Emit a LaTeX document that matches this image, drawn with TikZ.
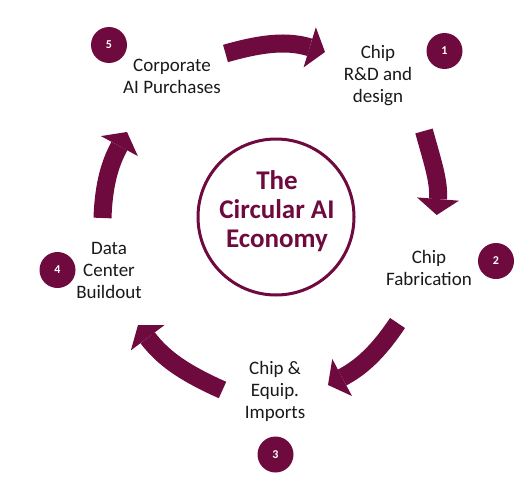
\documentclass[tikz,border=0pt]{standalone}
\usepackage{fontspec}
\setmainfont{Carlito}
\usetikzlibrary{arrows.meta}
\definecolor{maroon}{RGB}{110,10,62}
\begin{document}
\begin{tikzpicture}[x=1pt,y=1pt,
  lbl/.style={align=center, font=\fontsize{19}{22}\selectfont, text=black!90, inner sep=0pt},
  badge/.style={circle, fill=maroon, minimum size=36pt, inner sep=0pt, text=white, font=\fontsize{12}{12}\selectfont\bfseries},
  hub/.style={circle, draw=maroon, line width=3pt, minimum size=156pt, inner sep=0pt},
  hubtitle/.style={align=center, text=maroon, font=\fontsize{27}{29}\selectfont\bfseries, inner sep=0pt},
  flow/.style={draw=maroon, line width=18pt, -{Triangle[width=42pt,length=16pt,line width=0pt,fill=maroon]}}
]
\useasboundingbox (0,0) rectangle (532,483);

% hub
\node[hub] (hub) at (276,266) {};
\node[hubtitle] (title) at (277,272) {The\\Circular AI\\Economy};

% labels
\node[lbl] (l5) at (172,407) {Corporate\\AI Purchases};
\node[lbl] (l1) at (378,407.5) {Chip\\R\&D and\\design};
\node[lbl] (l2) at (429,215.5) {Chip\\Fabrication};
\node[lbl] (l3) at (275,92) {Chip \&\\Equip.\\Imports};
\node[lbl] (l4) at (109,212.5) {Data\\Center\\Buildout};

% badges
\node[badge] (b5) at (109,438) {5};
\node[badge] (b1) at (444.5,432) {1};
\node[badge] (b2) at (496,222) {2};
\node[badge] (b3) at (275.5,28.5) {3};
\node[badge] (b4) at (57.5,213) {4};

% arrows
\coordinate (t51) at (225.5,429.5); \coordinate (h51) at (325,431);
\coordinate (t12) at (424,352);     \coordinate (h12) at (436.7,268);
\coordinate (t23) at (397.5,160);   \coordinate (h23) at (328,98);
\coordinate (t34) at (222.5,93);    \coordinate (h34) at (138,158);
\coordinate (t45) at (102.5,265);   \coordinate (h45) at (127,351);

\draw[flow] (t51) to[out=16,in=163] (h51);
\draw[flow] (t12) to[out=-74.5,in=85.5] (h12);
\draw[flow] (t23) to[out=236.3,in=28] (h23);
\draw[flow] (t34) to[out=156,in=-53] (h34);
\draw[flow] (t45) to[out=88,in=241.6] (h45);
\end{tikzpicture}
\end{document}
